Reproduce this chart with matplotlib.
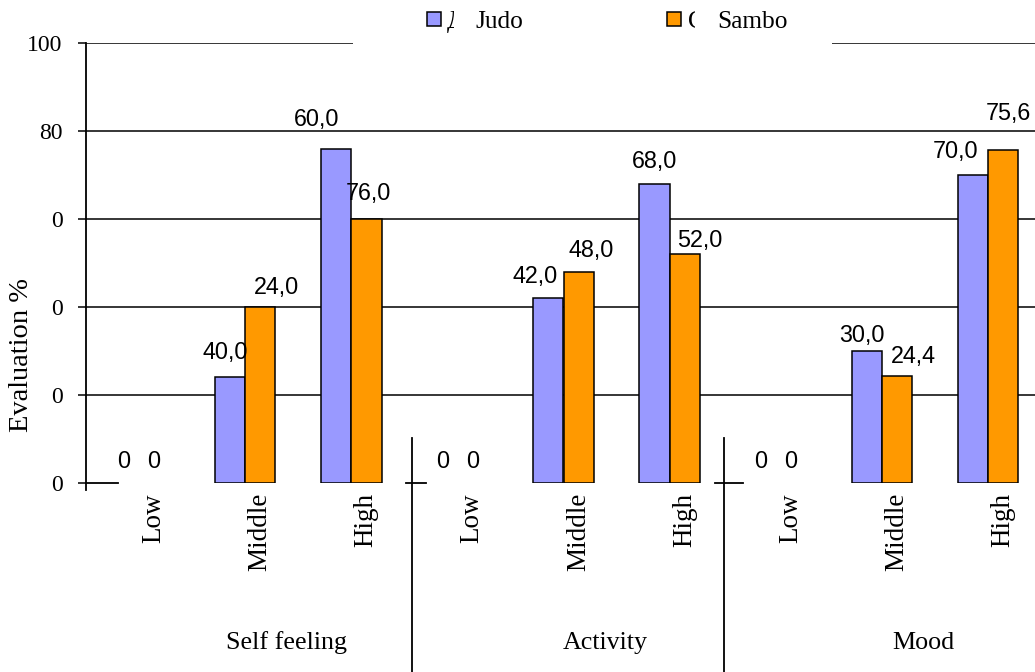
import matplotlib
matplotlib.use('Agg')
import matplotlib.pyplot as plt
from matplotlib.patches import Rectangle
from matplotlib.transforms import Bbox

# scores per level, three questionnaire scales
groups = ['Self feeling', 'Activity', 'Mood']
levels = ['Low', 'Middle', 'High']
judo = [0, 24, 76, 0, 42, 68, 0, 30, 70]
sambo = [0, 40, 60, 0, 48, 52, 0, 24.4, 75.6]
judo_labels = ['0', '40,0', '60,0', '0', '42,0', '68,0', '0', '30,0', '70,0']
sambo_labels = ['0', '24,0', '76,0', '0', '48,0', '52,0', '0', '24,4', '75,6']
yticks = [0, 20, 40, 60, 80, 100]
ytick_labels = ['0', '0', '0', '0', '80', '100']

# label nudges in pixels (dx, dy above the bar top)
judo_off = [(0, 15), (-5, 18), (-20, 23), (0, 15), (-13, 15), (0, 16), (0, 15), (-5, 9), (-17, 17)]
sambo_off = [(0, 15), (16, 13), (2, 19), (0, 15), (13, 15), (15, 7), (0, 15), (16, 13), (5, 30)]

SERIF = 'Liberation Serif'
SANS = 'Liberation Sans'
W, H = 1035, 672
judo_color = '#9999FF'
sambo_color = '#FF9900'

fig = plt.figure(figsize=(W / 100, H / 100), dpi=100)
ax = fig.add_axes([86 / W, (H - 483) / H, 955 / W, 440 / H])

x = list(range(len(judo)))
bw = 0.285
for vals, shift, color in [(judo, -bw / 2, judo_color), (sambo, bw / 2, sambo_color)]:
    # empty bars get no outline, otherwise a flat line shows at zero
    lws = [1.1 if v > 0 else 0 for v in vals]
    ax.bar([i + shift for i in x], vals, bw, color=color, edgecolor='black', linewidth=lws, zorder=2)

for i in x:
    ax.annotate(judo_labels[i], (i - bw / 2, judo[i]), xytext=judo_off[i], textcoords='offset pixels',
                ha='center', va='baseline', fontsize=16.8, family=SANS, zorder=3)
    ax.annotate(sambo_labels[i], (i + bw / 2, sambo[i]), xytext=sambo_off[i], textcoords='offset pixels',
                ha='center', va='baseline', fontsize=16.8, family=SANS, zorder=3)

for y in yticks[1:]:
    ax.axhline(y, color='black', linewidth=1.1, zorder=1)

ax.set_xlim(-0.5, 8.5)
ax.set_ylim(0, 100)
for s in ax.spines.values():
    s.set_visible(False)
ax.set_xticks([])
ax.set_yticks(yticks)
ax.set_yticklabels(ytick_labels, family=SERIF, fontsize=17)
ax.tick_params(axis='y', direction='out', length=6, width=1.1, pad=11)

# axis line and the short piece of baseline next to it
ax.plot([-0.5, -0.5], [-1.6, 100], color='black', linewidth=1.3, clip_on=False)
ax.plot([-0.5, -0.2], [0, 0], color='black', linewidth=1.3, clip_on=False)

# group dividers under the axis
for xs, (a, b) in zip([2.57, 5.51], [(2.52, 2.70), (5.43, 5.69)]):
    ax.plot([xs, xs], [10.2, -43], color='black', linewidth=1.3, clip_on=False)
    ax.plot([a, b], [0, 0], color='black', linewidth=1.3, clip_on=False)

# level labels and group names
for i in x:
    ax.text(i + 0.14, -2.3, levels[i % 3], rotation=90, ha='center', va='top',
            family=SERIF, fontsize=19.5)
for g, name in enumerate(groups):
    ax.text(3 * g + 1 + 0.39, -37.7, name, ha='center', va='baseline',
            family=SERIF, fontsize=18.7)

fig.text(22 / W, 1 - 355 / H, 'Evaluation %', rotation=90, ha='center', va='center',
         family=SERIF, fontsize=20.5)

# legend drawn by hand on a white patch over the top gridline
fig.add_artist(Rectangle((353 / W, 1 - 50 / H), (832 - 353) / W, 50 / H, transform=fig.transFigure,
                         facecolor='white', edgecolor='none', zorder=5))
for left, color, glyph, gx, name, nx in [(427, judo_color, 'Д', 447, 'Judo', 475),
                                         (667, sambo_color, 'С', 688, 'Sambo', 717)]:
    fig.add_artist(Rectangle((left / W, 1 - 26 / H), 14 / W, 14 / H, transform=fig.transFigure,
                             facecolor=color, edgecolor='black', linewidth=1.1, zorder=6))
    t = fig.text(gx / W, 1 - 28 / H, glyph, va='baseline', ha='left', family=SERIF,
                 fontsize=18.3, zorder=6)
    t.set_clip_on(True)
    t.set_clip_box(Bbox.from_extents(gx, H - 40, gx + 7, H - 5))
    fig.text(nx / W, 1 - 28 / H, name, va='baseline', ha='left', family=SERIF,
             fontsize=18.3, zorder=6)

fig.savefig('out.png', dpi=100)
